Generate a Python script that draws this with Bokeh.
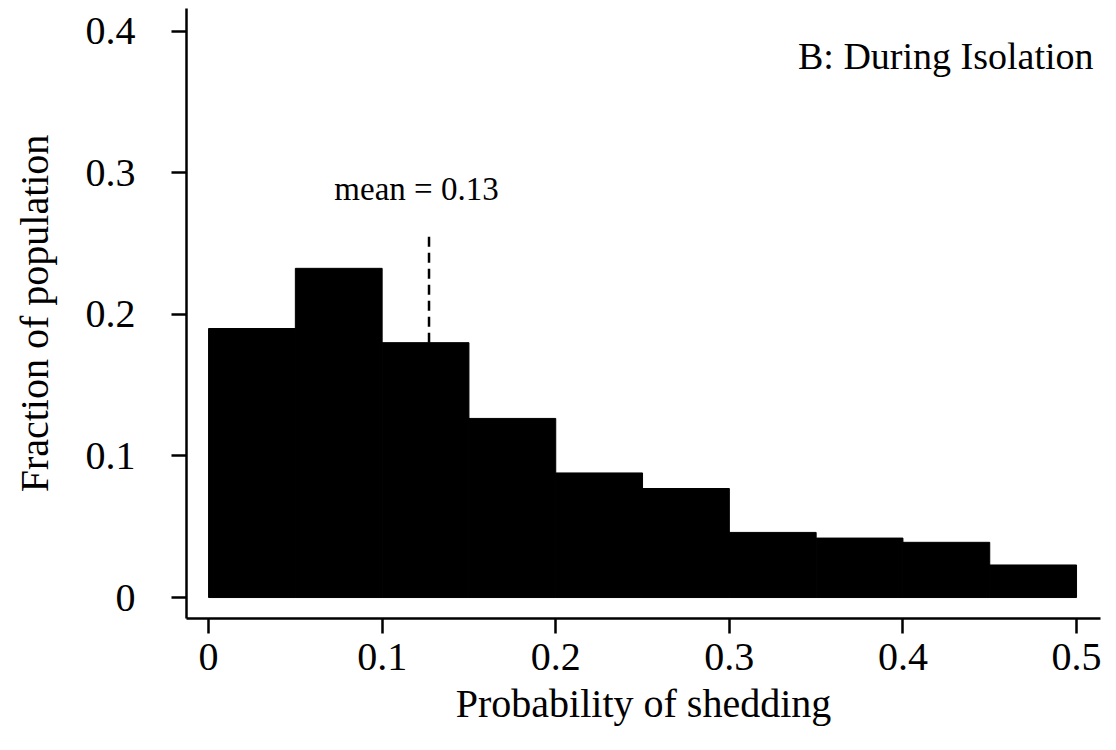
from bokeh.plotting import figure
from bokeh.models import FixedTicker, Range1d, Label, ColumnDataSource
from bokeh.embed import file_html
from bokeh.resources import INLINE

# ---- data ----
bin_left = [0.00, 0.05, 0.10, 0.15, 0.20, 0.25, 0.30, 0.35, 0.40, 0.45]
bin_right = [0.05, 0.10, 0.15, 0.20, 0.25, 0.30, 0.35, 0.40, 0.45, 0.50]
fraction = [0.190, 0.2325, 0.180, 0.1265, 0.088, 0.077, 0.046, 0.042, 0.039, 0.023]

mean_value = 0.127
mean_line_top = 0.2565
mean_text = "mean = 0.13"
panel_title = "B: During Isolation"

x_ticks = [0, 0.1, 0.2, 0.3, 0.4, 0.5]
x_tick_labels = ["0", "0.1", "0.2", "0.3", "0.4", "0.5"]
y_ticks = [0, 0.1, 0.2, 0.3, 0.4]
y_tick_labels = ["0", "0.1", "0.2", "0.3", "0.4"]

x_label = "Probability of shedding"
y_label = "Fraction of population"

FONT = "Liberation Serif"

p = figure(width=1108, height=742, output_backend="svg", toolbar_location=None,
           x_range=Range1d(-0.0127, 0.5138), y_range=Range1d(-0.0148, 0.416),
           min_border_left=186, min_border_right=8, min_border_top=8,
           min_border_bottom=124)
p.outline_line_color = None
p.grid.visible = False
p.background_fill_color = "white"
p.border_fill_color = "white"

src = ColumnDataSource(dict(left=bin_left, right=bin_right, top=fraction,
                            bottom=[0] * len(fraction)))
p.quad(left="left", right="right", top="top", bottom="bottom", source=src,
       fill_color="black", line_color="black", line_width=1)

# mean line (dashed) from the top of the bar containing the mean
bar_idx = [i for i in range(len(bin_left)) if bin_left[i] <= mean_value < bin_right[i]][0]
p.segment(x0=[mean_value], y0=[fraction[bar_idx]], x1=[mean_value], y1=[mean_line_top],
          line_color="black", line_width=2.5, line_dash="10 6")

p.add_layout(Label(x=0.1198, y=0.2885, text=mean_text, text_align="center",
                   text_baseline="alphabetic", text_font=FONT,
                   text_font_size="33px", text_color="black"))
p.add_layout(Label(x=0.5098, y=0.3825, text=panel_title, text_align="right",
                   text_baseline="alphabetic", text_font=FONT,
                   text_font_size="38px", text_color="black"))

for ax, ticks, labels in ((p.xaxis[0], x_ticks, x_tick_labels),
                          (p.yaxis[0], y_ticks, y_tick_labels)):
    ax.ticker = FixedTicker(ticks=ticks)
    ax.major_label_overrides = {t: l for t, l in zip(ticks, labels)}
    ax.minor_tick_line_color = None
    ax.major_tick_in = 0
    ax.major_tick_out = 15
    ax.major_tick_line_width = 2.5
    ax.major_tick_line_color = "black"
    ax.axis_line_width = 2.5
    ax.axis_line_color = "black"
    ax.major_label_text_font = FONT
    ax.major_label_text_font_size = "40px"
    ax.major_label_text_color = "black"
    ax.axis_label_text_font = FONT
    ax.axis_label_text_font_size = "40px"
    ax.axis_label_text_font_style = "normal"
    ax.axis_label_text_color = "black"

p.xaxis.axis_label = x_label
p.yaxis.axis_label = y_label
p.xaxis.major_label_standoff = 10
p.xaxis.axis_label_standoff = 8
p.yaxis.major_label_standoff = 36
p.yaxis.axis_label_standoff = 26

open("out.html", "w").write(file_html(p, INLINE))
